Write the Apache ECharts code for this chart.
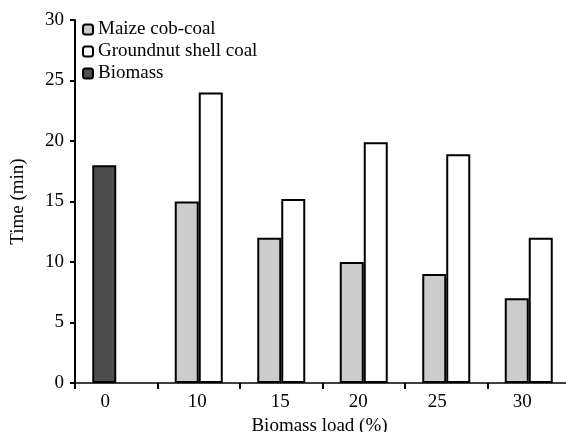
<!DOCTYPE html>
<html>
<head>
<meta charset="utf-8">
<script src="https://cdn.jsdelivr.net/npm/echarts@6/dist/echarts.min.js"></script>
<style>
  html, body { margin: 0; padding: 0; background: #fff; }
  #chart { width: 566px; height: 432px; }
</style>
</head>
<body>
<div id="chart"></div>
<script>
// data
const categories = ['0', '10', '15', '20', '25', '30']
const maize = [null, 15, 12, 10, 9, 7]
const groundnut = [null, 24, 15.2, 19.9, 18.9, 12]
const biomass = [18, null, null, null, null, null]
const yTicks = [0, 5, 10, 15, 20, 25, 30]

// labels in the original sit a little left of the band centre
const labelShift = [22, 3, 2, 11, 18, 13]

const font = 'Liberation Serif'
const fs = 19
const border = { borderColor: '#000', borderWidth: 2 }

let myChart = echarts.init(document.getElementById('chart'))
myChart.setOption({
    animation: false,
    textStyle: { fontFamily: font, color: '#000' },
    legend: {
        orient: 'vertical',
        left: 82,
        top: 20,
        padding: 0,
        itemWidth: 10,
        itemHeight: 10,
        itemGap: 3,
        textStyle: { fontFamily: font, fontSize: fs, color: '#000' },
        data: ['Maize cob-coal', 'Groundnut shell coal', 'Biomass']
    },
    grid: { left: 75, right: -4, top: 20, bottom: 49, outerBoundsMode: 'none' },
    xAxis: {
        type: 'category',
        data: categories,
        name: 'Biomass load (%)',
        nameLocation: 'middle',
        nameGap: 29,
        nameTextStyle: { fontFamily: font, fontSize: fs, color: '#000', padding: [0, 6, 0, 0] },
        axisLine: { lineStyle: { color: '#000', width: 1.5 } },
        axisTick: { show: true, interval: 0, length: 6, lineStyle: { color: '#000', width: 2 } },
        axisLabel: {
            fontFamily: font,
            fontSize: fs,
            color: '#000',
            margin: 10,
            interval: 0,
            formatter: function (v, i) { return '{s' + i + '|' + v + '}' },
            rich: Object.fromEntries(labelShift.map((p, i) => ['s' + i, {
                fontFamily: font, fontSize: fs, color: '#000', padding: [0, p, 0, 0]
            }]))
        }
    },
    yAxis: {
        type: 'value',
        min: yTicks[0],
        max: yTicks[yTicks.length - 1],
        interval: 5,
        name: 'Time (min)',
        nameLocation: 'middle',
        nameGap: 47,
        nameTextStyle: { fontFamily: font, fontSize: fs, color: '#000' },
        axisLine: { show: true, lineStyle: { color: '#000', width: 2 } },
        axisTick: { show: true, length: 5, lineStyle: { color: '#000', width: 2 } },
        axisLabel: { fontFamily: font, fontSize: fs, color: '#000', margin: 11 },
        splitLine: { show: false }
    },
    series: [
        {
            name: 'Maize cob-coal',
            type: 'bar',
            stack: 'a',
            barWidth: 24,
            barGap: '0%',
            itemStyle: Object.assign({ color: '#cccccc' }, border),
            data: maize
        },
        {
            name: 'Groundnut shell coal',
            type: 'bar',
            stack: 'b',
            barWidth: 24,
            barGap: '0%',
            itemStyle: Object.assign({ color: '#ffffff' }, border),
            data: groundnut
        },
        {
            name: 'Biomass',
            type: 'bar',
            stack: 'a',
            barWidth: 24,
            itemStyle: Object.assign({ color: '#4d4d4d' }, border),
            data: biomass
        }
    ]
})
window.addEventListener('resize', function () {
    myChart.resize()
})
</script>
</body>
</html>
